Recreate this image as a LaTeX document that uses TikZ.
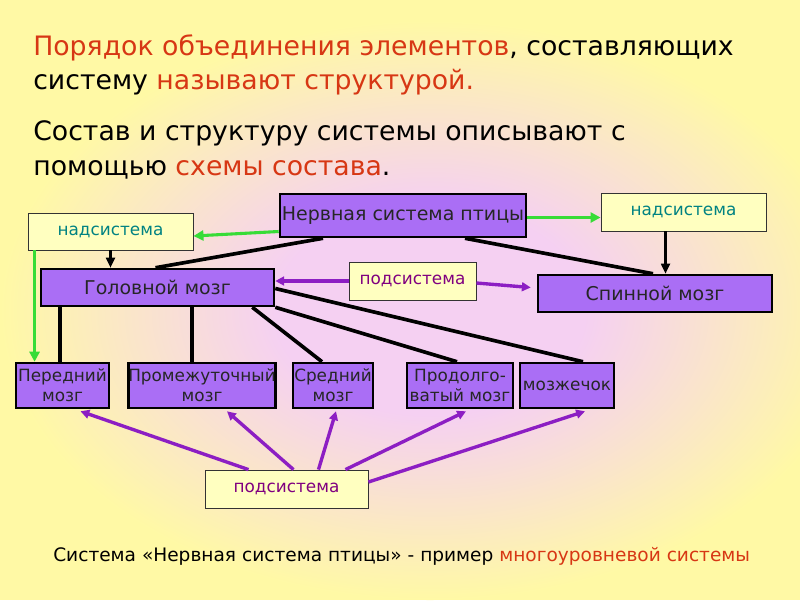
\documentclass[tikz,border=0pt]{standalone}
\usepackage{fontspec}
\setmainfont{DejaVu Sans}
\usetikzlibrary{calc,arrows.meta}
\definecolor{bgy}{RGB}{255,249,165}
\definecolor{bgp}{RGB}{245,208,242}
\definecolor{tred}{RGB}{215,55,20}
\definecolor{teal}{RGB}{0,130,130}
\definecolor{subc}{RGB}{128,0,128}
\definecolor{arrp}{RGB}{140,30,195}
\definecolor{grn}{RGB}{55,220,55}
\definecolor{boxp}{RGB}{170,110,245}
\definecolor{boxy}{RGB}{255,255,192}
\pgfdeclareradialshading{bgsh}{\pgfpoint{0bp}{0bp}}{color(0bp)=(bgp); color(9bp)=(bgp); color(25bp)=(bgy); color(50bp)=(bgy)}
\begin{document}
\begin{tikzpicture}[x=0.025cm,y=-0.025cm,
  pbox/.style={draw=black,line width=1.8pt,fill=boxp,inner sep=0pt,align=center,font=\fontsize{12}{14}\selectfont,text=black!85},
  bigtxt/.style={font=\fontsize{13.5}{15}\selectfont},
  ybox/.style={draw=black!80,line width=0.6pt,fill=boxy,inner sep=0pt,font=\fontsize{12}{14}\selectfont},
  blk/.style={line width=2.6pt,black},
  blkarr/.style={line width=1.6pt,black,-{Triangle[length=0.25cm,width=0.22cm]}},
  grnarr/.style={line width=2.2pt,grn,-{Triangle[length=0.25cm,width=0.25cm]}},
  purarr/.style={line width=2.4pt,arrp,-{Triangle[length=0.22cm,width=0.22cm]}},
  ttl/.style={anchor=base west,inner sep=0pt,font=\fontsize{19}{22}\selectfont}
]
\useasboundingbox (0,0) rectangle (800,600);
\fill[bgy] (0,0) rectangle (800,600);
\begin{scope}
\clip (0,0) rectangle (800,600);
\shade[shading=bgsh] (430,310) ellipse [x radius=430, y radius=290];
\end{scope}

% title texts
\node[ttl] (t1) at (33,55) {\textcolor{tred}{Порядок объединения элементов}, составляющих};
\node[ttl] (t2) at (33,89) {систему \textcolor{tred}{называют структурой.}};
\node[ttl] (t3) at (33,140) {Состав и структуру системы описывают с};
\node[ttl] (t4) at (33,175) {помощью \textcolor{tred}{схемы состава}.};

% nodes
\node[pbox,bigtxt,minimum width=6.15cm,minimum height=1.075cm] (nerv) at (403,215.5) {Нервная система птицы};
\node[ybox,minimum width=4.125cm,minimum height=0.925cm,text=teal] (nadL) at (110.5,231.5) {надсистема};
\node[ybox,minimum width=4.125cm,minimum height=0.95cm,text=teal] (nadR) at (683.5,212) {надсистема};
\node[pbox,bigtxt,minimum width=5.825cm,minimum height=0.925cm] (head) at (157.5,287.5) {Головной мозг};
\node[ybox,minimum width=3.175cm,minimum height=0.95cm,text=subc] (podM) at (412.5,281) {подсистема};
\node[pbox,bigtxt,minimum width=5.85cm,minimum height=0.925cm] (spin) at (655,293.5) {Спинной мозг};
\node[pbox,minimum width=2.325cm,minimum height=1.125cm] (fwd) at (62.5,385.5) {Передний\\мозг};
\node[pbox,minimum width=3.65cm,minimum height=1.125cm] (mid) at (202,385.5) {Промежуточный\\мозг};
\node[pbox,minimum width=2.0cm,minimum height=1.125cm] (sred) at (333,385.5) {Средний\\мозг};
\node[pbox,minimum width=2.65cm,minimum height=1.125cm] (prod) at (460,385.5) {Продолго-\\ватый мозг};
\node[pbox,minimum width=2.35cm,minimum height=1.125cm] (moz) at (567,385.5) {мозжечок};
\node[ybox,minimum width=4.075cm,minimum height=0.95cm,text=subc] (podB) at (286.5,489) {подсистема};

% black tree lines
\draw[blk] ($(nerv.south)+(-80,0)$) -- ($(head.north)+(-2,0)$);
\draw[blk] ($(nerv.south)+(62,0)$) -- ($(spin.north)+(-2,0)$);
\coordinate (h1) at ($(head.south west)+(20,0)$);
\coordinate (h2) at ($(head.south west)+(152,0)$);
\draw[blk] (h1) -- (h1 |- fwd.north);
\draw[blk] (h2) -- (h2 |- mid.north);
\draw[blk] ($(head.south east)+(-23,0)$) -- ($(sred.north)+(-11,0)$);
\draw[blk] (head.south east) -- ($(prod.north)+(-3,0)$);
\draw[blk] ($(head.east)+(0,1)$) -- ($(moz.north)+(16,0)$);

% black arrows
\draw[blkarr] (nadL.south) -- (nadL.south |- head.north);
\coordinate (n2) at ($(nadR.south)+(-18,0)$);
\draw[blkarr] (n2) -- (n2 |- spin.north);

% green arrows
\draw[grnarr] ($(nerv.west)+(0,16)$) -- ($(nadL.east)+(0,4.5)$);
\draw[grnarr] ($(nerv.east)+(0,2)$) -- ($(nadR.west)+(0,5.5)$);
\coordinate (g1) at ($(nadL.south west)+(7,0)$);
\draw[grnarr] (g1) -- (g1 |- fwd.north);

% purple arrows
\draw[purarr] (podM.west) -- (head.east |- podM.west);
\draw[purarr] ($(podM.east)+(0,2)$) -- ($(spin.west)+(-6,-6)$);
\draw[purarr] ($(podB.north)+(-38,0)$) -- ($(fwd.south)+(18,2)$);
\draw[purarr] ($(podB.north)+(7,0)$) -- ($(mid.south)+(25,2)$);
\draw[purarr] ($(podB.north)+(32,0)$) -- ($(sred.south)+(3,2)$);
\draw[purarr] ($(podB.north east)+(-23,0)$) -- ($(prod.south)+(6,2)$);
\draw[purarr] ($(podB.east)+(0,-7)$) -- ($(moz.south)+(18,2)$);

% bottom text
\node[anchor=base west,inner sep=0pt,font=\fontsize{13.2}{15}\selectfont] (bt) at (53,561) {Система «Нервная система птицы» - пример \textcolor{tred}{многоуровневой системы}};
\end{tikzpicture}
\end{document}
